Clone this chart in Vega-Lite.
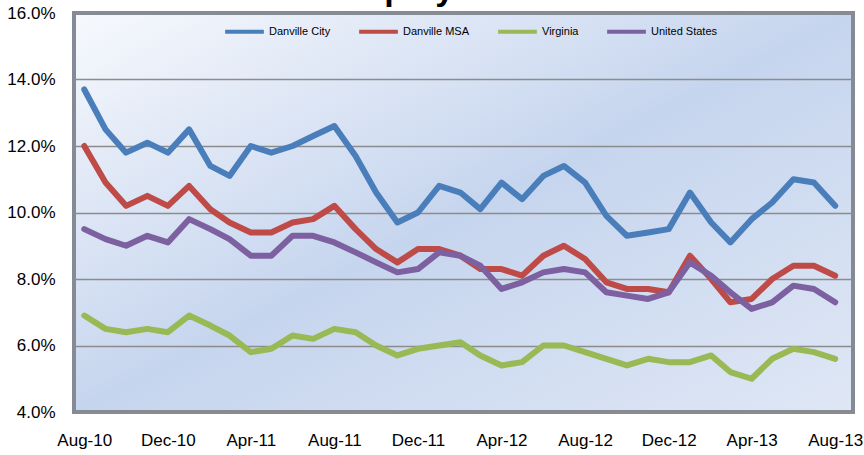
{
  "$schema": "https://vega.github.io/schema/vega-lite/v6.json",
  "width": 779,
  "height": 399,
  "autosize": {"type": "none"},
  "padding": {"left": 74, "top": 13, "right": 11, "bottom": 43},
  "background": "white",
  "title": {"text": "Unemployment Rates", "frame": "group", "anchor": "middle", "baseline": "alphabetic", "offset": 0, "dy": 30, "fontSize": 34, "fontWeight": "bold", "font": "Liberation Sans", "color": "black"},
  "config": {
    "font": "Liberation Sans",
    "view": {
      "fill": {"gradient": "linear", "x1": 0, "y1": 0, "x2": 1, "y2": 1, "stops": [{"offset": 0, "color": "#f7f9fd"}, {"offset": 0.5, "color": "#c6d5ee"}, {"offset": 1, "color": "#dfe7f5"}]},
      "stroke": "#858b96",
      "strokeWidth": 4
    }
  },
  "data": {"values": [
    {"d":"2010/08/01","s":"Danville City","v":13.7},{"d":"2010/09/01","s":"Danville City","v":12.5},{"d":"2010/10/01","s":"Danville City","v":11.8},{"d":"2010/11/01","s":"Danville City","v":12.1},{"d":"2010/12/01","s":"Danville City","v":11.8},{"d":"2011/01/01","s":"Danville City","v":12.5},{"d":"2011/02/01","s":"Danville City","v":11.4},{"d":"2011/03/01","s":"Danville City","v":11.1},{"d":"2011/04/01","s":"Danville City","v":12.0},{"d":"2011/05/01","s":"Danville City","v":11.8},{"d":"2011/06/01","s":"Danville City","v":12.0},{"d":"2011/07/01","s":"Danville City","v":12.3},{"d":"2011/08/01","s":"Danville City","v":12.6},{"d":"2011/09/01","s":"Danville City","v":11.7},{"d":"2011/10/01","s":"Danville City","v":10.6},{"d":"2011/11/01","s":"Danville City","v":9.7},{"d":"2011/12/01","s":"Danville City","v":10.0},{"d":"2012/01/01","s":"Danville City","v":10.8},{"d":"2012/02/01","s":"Danville City","v":10.6},{"d":"2012/03/01","s":"Danville City","v":10.1},{"d":"2012/04/01","s":"Danville City","v":10.9},{"d":"2012/05/01","s":"Danville City","v":10.4},{"d":"2012/06/01","s":"Danville City","v":11.1},{"d":"2012/07/01","s":"Danville City","v":11.4},{"d":"2012/08/01","s":"Danville City","v":10.9},{"d":"2012/09/01","s":"Danville City","v":9.9},{"d":"2012/10/01","s":"Danville City","v":9.3},{"d":"2012/11/01","s":"Danville City","v":9.4},{"d":"2012/12/01","s":"Danville City","v":9.5},{"d":"2013/01/01","s":"Danville City","v":10.6},{"d":"2013/02/01","s":"Danville City","v":9.7},{"d":"2013/03/01","s":"Danville City","v":9.1},{"d":"2013/04/01","s":"Danville City","v":9.8},{"d":"2013/05/01","s":"Danville City","v":10.3},{"d":"2013/06/01","s":"Danville City","v":11.0},{"d":"2013/07/01","s":"Danville City","v":10.9},{"d":"2013/08/01","s":"Danville City","v":10.2},
    {"d":"2010/08/01","s":"Danville MSA","v":12.0},{"d":"2010/09/01","s":"Danville MSA","v":10.9},{"d":"2010/10/01","s":"Danville MSA","v":10.2},{"d":"2010/11/01","s":"Danville MSA","v":10.5},{"d":"2010/12/01","s":"Danville MSA","v":10.2},{"d":"2011/01/01","s":"Danville MSA","v":10.8},{"d":"2011/02/01","s":"Danville MSA","v":10.1},{"d":"2011/03/01","s":"Danville MSA","v":9.7},{"d":"2011/04/01","s":"Danville MSA","v":9.4},{"d":"2011/05/01","s":"Danville MSA","v":9.4},{"d":"2011/06/01","s":"Danville MSA","v":9.7},{"d":"2011/07/01","s":"Danville MSA","v":9.8},{"d":"2011/08/01","s":"Danville MSA","v":10.2},{"d":"2011/09/01","s":"Danville MSA","v":9.5},{"d":"2011/10/01","s":"Danville MSA","v":8.9},{"d":"2011/11/01","s":"Danville MSA","v":8.5},{"d":"2011/12/01","s":"Danville MSA","v":8.9},{"d":"2012/01/01","s":"Danville MSA","v":8.9},{"d":"2012/02/01","s":"Danville MSA","v":8.7},{"d":"2012/03/01","s":"Danville MSA","v":8.3},{"d":"2012/04/01","s":"Danville MSA","v":8.3},{"d":"2012/05/01","s":"Danville MSA","v":8.1},{"d":"2012/06/01","s":"Danville MSA","v":8.7},{"d":"2012/07/01","s":"Danville MSA","v":9.0},{"d":"2012/08/01","s":"Danville MSA","v":8.6},{"d":"2012/09/01","s":"Danville MSA","v":7.9},{"d":"2012/10/01","s":"Danville MSA","v":7.7},{"d":"2012/11/01","s":"Danville MSA","v":7.7},{"d":"2012/12/01","s":"Danville MSA","v":7.6},{"d":"2013/01/01","s":"Danville MSA","v":8.7},{"d":"2013/02/01","s":"Danville MSA","v":8.0},{"d":"2013/03/01","s":"Danville MSA","v":7.3},{"d":"2013/04/01","s":"Danville MSA","v":7.4},{"d":"2013/05/01","s":"Danville MSA","v":8.0},{"d":"2013/06/01","s":"Danville MSA","v":8.4},{"d":"2013/07/01","s":"Danville MSA","v":8.4},{"d":"2013/08/01","s":"Danville MSA","v":8.1},
    {"d":"2010/08/01","s":"Virginia","v":6.9},{"d":"2010/09/01","s":"Virginia","v":6.5},{"d":"2010/10/01","s":"Virginia","v":6.4},{"d":"2010/11/01","s":"Virginia","v":6.5},{"d":"2010/12/01","s":"Virginia","v":6.4},{"d":"2011/01/01","s":"Virginia","v":6.9},{"d":"2011/02/01","s":"Virginia","v":6.6},{"d":"2011/03/01","s":"Virginia","v":6.3},{"d":"2011/04/01","s":"Virginia","v":5.8},{"d":"2011/05/01","s":"Virginia","v":5.9},{"d":"2011/06/01","s":"Virginia","v":6.3},{"d":"2011/07/01","s":"Virginia","v":6.2},{"d":"2011/08/01","s":"Virginia","v":6.5},{"d":"2011/09/01","s":"Virginia","v":6.4},{"d":"2011/10/01","s":"Virginia","v":6.0},{"d":"2011/11/01","s":"Virginia","v":5.7},{"d":"2011/12/01","s":"Virginia","v":5.9},{"d":"2012/01/01","s":"Virginia","v":6.0},{"d":"2012/02/01","s":"Virginia","v":6.1},{"d":"2012/03/01","s":"Virginia","v":5.7},{"d":"2012/04/01","s":"Virginia","v":5.4},{"d":"2012/05/01","s":"Virginia","v":5.5},{"d":"2012/06/01","s":"Virginia","v":6.0},{"d":"2012/07/01","s":"Virginia","v":6.0},{"d":"2012/08/01","s":"Virginia","v":5.8},{"d":"2012/09/01","s":"Virginia","v":5.6},{"d":"2012/10/01","s":"Virginia","v":5.4},{"d":"2012/11/01","s":"Virginia","v":5.6},{"d":"2012/12/01","s":"Virginia","v":5.5},{"d":"2013/01/01","s":"Virginia","v":5.5},{"d":"2013/02/01","s":"Virginia","v":5.7},{"d":"2013/03/01","s":"Virginia","v":5.2},{"d":"2013/04/01","s":"Virginia","v":5.0},{"d":"2013/05/01","s":"Virginia","v":5.6},{"d":"2013/06/01","s":"Virginia","v":5.9},{"d":"2013/07/01","s":"Virginia","v":5.8},{"d":"2013/08/01","s":"Virginia","v":5.6},
    {"d":"2010/08/01","s":"United States","v":9.5},{"d":"2010/09/01","s":"United States","v":9.2},{"d":"2010/10/01","s":"United States","v":9.0},{"d":"2010/11/01","s":"United States","v":9.3},{"d":"2010/12/01","s":"United States","v":9.1},{"d":"2011/01/01","s":"United States","v":9.8},{"d":"2011/02/01","s":"United States","v":9.5},{"d":"2011/03/01","s":"United States","v":9.2},{"d":"2011/04/01","s":"United States","v":8.7},{"d":"2011/05/01","s":"United States","v":8.7},{"d":"2011/06/01","s":"United States","v":9.3},{"d":"2011/07/01","s":"United States","v":9.3},{"d":"2011/08/01","s":"United States","v":9.1},{"d":"2011/09/01","s":"United States","v":8.8},{"d":"2011/10/01","s":"United States","v":8.5},{"d":"2011/11/01","s":"United States","v":8.2},{"d":"2011/12/01","s":"United States","v":8.3},{"d":"2012/01/01","s":"United States","v":8.8},{"d":"2012/02/01","s":"United States","v":8.7},{"d":"2012/03/01","s":"United States","v":8.4},{"d":"2012/04/01","s":"United States","v":7.7},{"d":"2012/05/01","s":"United States","v":7.9},{"d":"2012/06/01","s":"United States","v":8.2},{"d":"2012/07/01","s":"United States","v":8.3},{"d":"2012/08/01","s":"United States","v":8.2},{"d":"2012/09/01","s":"United States","v":7.6},{"d":"2012/10/01","s":"United States","v":7.5},{"d":"2012/11/01","s":"United States","v":7.4},{"d":"2012/12/01","s":"United States","v":7.6},{"d":"2013/01/01","s":"United States","v":8.5},{"d":"2013/02/01","s":"United States","v":8.1},{"d":"2013/03/01","s":"United States","v":7.6},{"d":"2013/04/01","s":"United States","v":7.1},{"d":"2013/05/01","s":"United States","v":7.3},{"d":"2013/06/01","s":"United States","v":7.8},{"d":"2013/07/01","s":"United States","v":7.7},{"d":"2013/08/01","s":"United States","v":7.3}
  ]},
  "mark": {"type": "line", "strokeWidth": 6, "strokeCap": "round", "strokeJoin": "round"},
  "encoding": {
    "x": {
      "field": "d", "type": "temporal",
      "scale": {"domain": [{"year": 2010, "month": 7, "date": 17}, {"year": 2013, "month": 8, "date": 27}]},
      "axis": {
        "title": null, "grid": false, "domain": false, "ticks": false,
        "values": [{"year":2010,"month":8,"date":1},{"year":2010,"month":12,"date":1},{"year":2011,"month":4,"date":1},{"year":2011,"month":8,"date":1},{"year":2011,"month":12,"date":1},{"year":2012,"month":4,"date":1},{"year":2012,"month":8,"date":1},{"year":2012,"month":12,"date":1},{"year":2013,"month":4,"date":1},{"year":2013,"month":8,"date":1}],
        "format": "%b-%y", "labelFontSize": 17, "labelColor": "black", "labelPadding": 20, "labelFlush": false, "labelOverlap": false
      }
    },
    "y": {
      "field": "v", "type": "quantitative",
      "scale": {"domain": [4, 16], "nice": false, "zero": false},
      "axis": {
        "title": null, "values": [4, 6, 8, 10, 12, 14, 16], "labelExpr": "format(datum.value, '.1f') + '%'",
        "domain": false, "ticks": false, "grid": true, "gridColor": "#8c8c8c", "gridWidth": 1.5,
        "labelFontSize": 17, "labelColor": "black", "labelPadding": 19
      }
    },
    "color": {
      "field": "s", "type": "nominal",
      "scale": {"domain": ["Danville City", "Danville MSA", "Virginia", "United States"], "range": ["#4a7ebb", "#be4b48", "#98b954", "#7d60a0"]},
      "legend": {
        "title": null, "orient": "none", "legendX": 149, "legendY": -3, "direction": "horizontal", "columns": 4,
        "symbolType": "stroke", "symbolSize": 1500, "symbolStrokeWidth": 4, "labelFontSize": 11, "labelColor": "black",
        "columnPadding": 20, "labelOffset": 3
      }
    }
  }
}
